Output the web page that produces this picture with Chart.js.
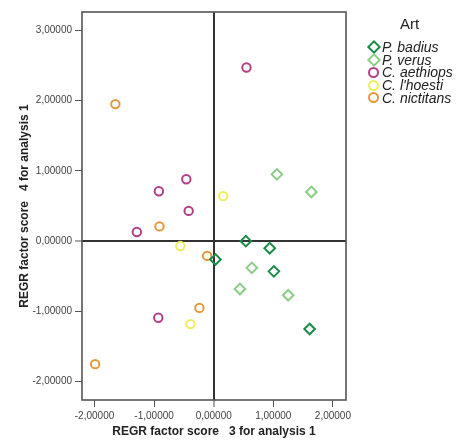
<!DOCTYPE html>
<html>
<head>
<meta charset="utf-8">
<script src="https://cdn.jsdelivr.net/npm/chart.js@4"></script>
<style>
  body { margin: 0; background: #fff; }
  #wrap { position: relative; width: 470px; height: 442px; }
  #legend { position: absolute; left: 365px; top: 15px; font-family: "Liberation Sans", Arial, sans-serif; color: #222; }
  #legend .ttl { font-size: 15px; margin-left: 35px; margin-bottom: 9px; }
  #legend .row { display: flex; align-items: center; height: 12.6px; font-size: 14px; font-style: italic; }
  #legend .mk { width: 17px; display: flex; justify-content: center; align-items: center; }
  .dia { width: 6px; height: 6px; border: 2px solid; transform: rotate(45deg); }
  .cir { width: 7px; height: 7px; border: 2px solid; border-radius: 50%; }
</style>
</head>
<body>
<div id="wrap">
  <canvas id="chart" width="470" height="442"></canvas>
  <div id="legend"></div>
</div>
<script>
const species = ['P. badius', 'P. verus', 'C. aethiops', "C. l'hoesti", 'C. nictitans'];
const colors = ['#1d8a4a', '#8dcc86', '#b23f86', '#eeee5a', '#e8973b'];
const shapes = ['rectRot', 'rectRot', 'circle', 'circle', 'circle'];

const badiusX = [0.03, 0.54, 0.94, 1.01, 1.61];
const badiusY = [-0.26, 0.00, -0.10, -0.43, -1.25];
const verusX = [1.06, 1.64, 0.64, 0.44, 1.25];
const verusY = [0.95, 0.70, -0.38, -0.68, -0.77];
const aethiopsX = [0.55, -0.92, -0.46, -0.42, -1.29, -0.93];
const aethiopsY = [2.47, 0.71, 0.88, 0.43, 0.13, -1.09];
const lhoestiX = [0.16, -0.56, -0.39];
const lhoestiY = [0.64, -0.07, -1.18];
const nictitansX = [-1.65, -0.91, -0.11, -0.24, -1.99];
const nictitansY = [1.95, 0.21, -0.21, -0.95, -1.75];

const xTicks = [-2, -1, 0, 1, 2];
const yTicks = [-2, -1, 0, 1, 2, 3];

const seriesX = [badiusX, verusX, aethiopsX, lhoestiX, nictitansX];
const seriesY = [badiusY, verusY, aethiopsY, lhoestiY, nictitansY];

const fmt = v => v.toFixed(5).replace('.', ',');

const datasets = species.map((name, i) => ({
  label: name,
  data: seriesX[i].map((x, j) => ({ x: x, y: seriesY[i][j] })),
  pointStyle: shapes[i],
  pointRadius: shapes[i] === 'rectRot' ? 5.3 : 4.2,
  pointBorderWidth: 2,
  borderColor: colors[i],
  backgroundColor: 'rgba(0,0,0,0)',
  pointBackgroundColor: 'rgba(0,0,0,0)'
}));

const frame = {
  id: 'frame',
  afterDraw(chart) {
    const { ctx, chartArea: a } = chart;
    ctx.save();
    ctx.strokeStyle = '#555';
    ctx.lineWidth = 1.6;
    ctx.strokeRect(a.left, a.top, a.right - a.left, a.bottom - a.top);
    ctx.restore();
  }
};

const gridOpts = {
  color: c => (c.tick && c.tick.value === 0 ? '#333' : 'rgba(0,0,0,0)'),
  lineWidth: c => (c.tick && c.tick.value === 0 ? 2 : 1),
  tickColor: '#555',
  tickLength: 7,
  tickWidth: 1
};

new Chart(document.getElementById('chart'), {
  type: 'scatter',
  data: { datasets },
  options: {
    responsive: false,
    animation: false,
    devicePixelRatio: 1,
    layout: { padding: { left: 0, top: 12, right: 124, bottom: 0 } },
    plugins: { legend: { display: false }, tooltip: { enabled: false } },
    scales: {
      x: {
        min: -2.21, max: 2.22,
        afterBuildTicks: s => { s.ticks = xTicks.map(v => ({ value: v })); },
        afterFit: s => { s.height = 42; },
        border: { display: false },
        grid: gridOpts,
        ticks: { callback: v => fmt(v), color: '#444', padding: 3, maxRotation: 0,
                 font: { family: 'Liberation Sans', size: 10 } },
        title: { display: true, text: 'REGR factor score   3 for analysis 1', color: '#222',
                 padding: { bottom: 3, top: 0 },
                 font: { family: 'Liberation Sans', size: 12, weight: 'bold' } }
      },
      y: {
        min: -2.26, max: 3.26,
        afterBuildTicks: s => { s.ticks = yTicks.map(v => ({ value: v })); },
        afterFit: s => { s.width = 82; },
        border: { display: false },
        grid: gridOpts,
        ticks: { callback: v => fmt(v), color: '#444', padding: 3,
                 font: { family: 'Liberation Sans', size: 10 } },
        title: { display: true, text: 'REGR factor score   4 for analysis 1', color: '#222',
                 padding: { top: 17, bottom: 0 },
                 font: { family: 'Liberation Sans', size: 12, weight: 'bold' } }
      }
    }
  },
  plugins: [frame]
});

const legend = document.getElementById('legend');
let html = '<div class="ttl">Art</div>';
species.forEach((name, i) => {
  const cls = shapes[i] === 'rectRot' ? 'dia' : 'cir';
  html += '<div class="row"><span class="mk"><span class="' + cls + '" style="border-color:' + colors[i] + '"></span></span>' + name + '</div>';
});
legend.innerHTML = html;
</script>
</body>
</html>
